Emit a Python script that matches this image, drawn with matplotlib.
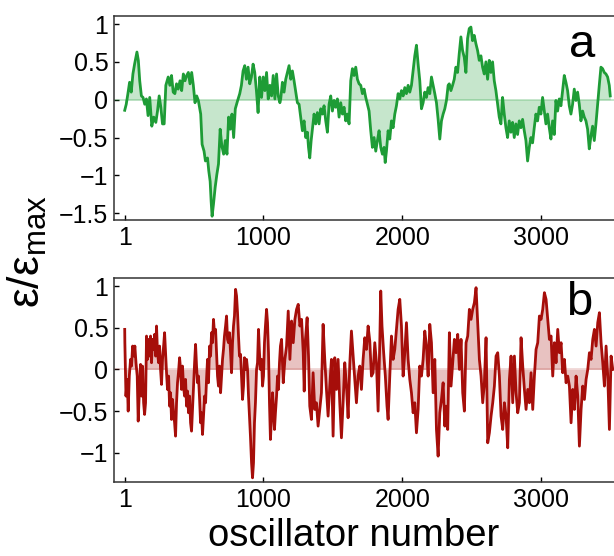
import matplotlib
matplotlib.use("Agg")
from matplotlib import pyplot as plt

plt.rcParams['font.family'] = ['Liberation Sans', 'DejaVu Sans']
plt.rcParams['mathtext.fontset'] = 'custom'
plt.rcParams['mathtext.rm'] = 'Liberation Sans'

# panel a (green)
osc_a = [1, 12, 24, 36, 48, 60, 72, 89, 99, 109, 121, 133, 145, 157, 169, 181, 196, 210, 225, 237,
         249, 261, 273, 285, 297, 314, 326, 338, 350, 362, 374, 386, 399, 411, 423, 435, 447, 459, 471, 483,
         495, 507, 519, 531, 548, 558, 572, 582, 597, 606, 616, 623, 630, 640, 652, 664, 676, 688, 700, 713,
         725, 737, 749, 761, 773, 785, 797, 814, 829, 841, 853, 865, 877, 889, 901, 913, 925, 937, 949, 961,
         973, 986, 998, 1010, 1022, 1034, 1046, 1058, 1070, 1082, 1094, 1106, 1118, 1124, 1136, 1148, 1160, 1172, 1184, 1196,
         1208, 1220, 1232, 1244, 1256, 1268, 1280, 1292, 1304, 1316, 1324, 1333, 1343, 1352, 1364, 1376, 1388, 1400, 1412, 1424,
         1436, 1448, 1460, 1472, 1484, 1496, 1508, 1520, 1532, 1544, 1556, 1568, 1580, 1592, 1604, 1616, 1628, 1640, 1652, 1664,
         1676, 1688, 1700, 1712, 1724, 1736, 1748, 1760, 1772, 1784, 1796, 1808, 1820, 1832, 1844, 1856, 1868, 1876, 1885, 1897,
         1909, 1921, 1933, 1945, 1957, 1969, 1981, 1993, 2005, 2017, 2029, 2041, 2053, 2065, 2077, 2089, 2101, 2113, 2125, 2137,
         2149, 2161, 2173, 2185, 2197, 2209, 2221, 2233, 2245, 2257, 2269, 2281, 2293, 2305, 2317, 2329, 2337, 2349, 2361, 2373,
         2385, 2397, 2409, 2421, 2433, 2445, 2457, 2469, 2481, 2493, 2505, 2517, 2529, 2541, 2553, 2565, 2577, 2589, 2601, 2613,
         2625, 2637, 2649, 2661, 2673, 2685, 2697, 2709, 2721, 2733, 2745, 2757, 2769, 2781, 2793, 2805, 2817, 2829, 2841, 2853,
         2865, 2877, 2889, 2901, 2913, 2925, 2937, 2949, 2961, 2973, 2985, 2997, 3009, 3021, 3033, 3045, 3057, 3069, 3081, 3093,
         3105, 3117, 3129, 3141, 3153, 3165, 3177, 3189, 3201, 3213, 3225, 3237, 3249, 3261, 3273, 3285, 3297, 3309, 3321, 3333,
         3345, 3357, 3369, 3381, 3393, 3405, 3417, 3429, 3441, 3453, 3465, 3477, 3489, 3496]
eps_a = [-0.14, -0.06, 0.08, 0.23, 0.10, 0.34, 0.47, 0.63, 0.52, 0.25, 0.05, 0.03, -0.06, 0.01, -0.21, 0.03, -0.35, -0.23, -0.30, -0.15,
         0.05, -0.10, -0.32, -0.32, 0.19, 0.30, 0.19, 0.32, 0.10, 0.08, 0.21, 0.14, 0.25, 0.12, 0.34, 0.25, 0.32, 0.36, 0.21, 0.36,
         0.19, -0.04, 0.05, -0.01, -0.19, -0.59, -0.68, -0.81, -0.77, -0.94, -1.08, -1.34, -1.54, -1.38, -1.16, -0.99, -0.85, -0.39, -0.61, -0.72,
         -0.54, -0.72, -0.23, -0.39, -0.19, -0.50, -0.12, -0.01, 0.08, 0.19, 0.38, 0.45, 0.27, 0.43, 0.21, 0.30, 0.47, 0.36, 0.12, -0.17,
         0.30, 0.03, 0.30, 0.12, 0.36, 0.01, 0.19, 0.05, 0.32, 0.01, 0.34, 0.05, -0.04, 0.01, 0.23, 0.10, 0.27, 0.36, 0.45, 0.27,
         0.38, 0.25, 0.10, -0.04, -0.06, -0.23, -0.41, -0.28, -0.50, -0.43, -0.63, -0.77, -0.54, -0.39, -0.19, -0.32, -0.17, -0.32, -0.12, -0.19,
         -0.08, -0.28, -0.43, -0.06, 0.05, -0.15, -0.01, -0.10, 0.01, -0.23, -0.04, -0.19, -0.10, -0.28, -0.19, -0.32, 0.25, 0.41, 0.32, 0.43,
         0.27, 0.21, 0.19, 0.08, 0.14, 0.03, -0.06, -0.15, -0.41, -0.63, -0.50, -0.68, -0.54, -0.41, -0.63, -0.72, -0.63, -0.83, -0.68, -0.41,
         -0.52, -0.28, -0.37, -0.19, -0.08, 0.08, 0.01, 0.12, 0.05, 0.16, 0.08, 0.19, 0.10, 0.19, 0.38, 0.58, 0.72, 0.47, 0.25, -0.12,
         -0.04, 0.10, 0.03, 0.16, 0.08, 0.30, 0.19, 0.08, -0.04, -0.26, -0.52, -0.28, -0.19, -0.12, -0.01, 0.19, 0.21, 0.12, 0.19, 0.27,
         0.43, 0.36, 0.61, 0.83, 0.65, 0.56, 0.36, 0.81, 0.94, 0.96, 0.78, 0.85, 0.74, 0.65, 0.52, 0.58, 0.43, 0.34, 0.50, 0.27,
         0.52, 0.36, 0.50, 0.25, 0.12, -0.06, -0.23, -0.32, 0.03, -0.19, -0.37, -0.50, -0.28, -0.43, -0.30, -0.50, -0.32, -0.46, -0.28, -0.37,
         -0.26, -0.41, -0.54, -0.81, -0.63, -0.50, -0.57, -0.37, -0.19, -0.28, -0.10, -0.19, 0.03, -0.15, -0.32, -0.19, -0.37, -0.52, -0.28, -0.46,
         -0.01, -0.15, 0.01, -0.08, 0.12, 0.32, 0.23, 0.12, -0.08, -0.19, -0.06, 0.14, -0.01, 0.10, -0.06, -0.28, -0.15, -0.23, -0.28, -0.39,
         -0.65, -0.48, -0.35, -0.54, -0.32, -0.06, 0.19, 0.43, 0.41, 0.36, 0.34, 0.30, 0.19, 0.05]

# panel b (red)
osc_b = [1, 2, 10, 19, 26, 34, 43, 50, 58, 67, 74, 82, 91, 98, 106, 115, 122, 129, 137, 144,
         151, 158, 165, 173, 180, 187, 194, 201, 209, 216, 223, 230, 237, 245, 252, 259, 266, 273, 281, 288,
         295, 302, 309, 317, 324, 331, 338, 345, 353, 360, 367, 374, 381, 388, 396, 403, 410, 417, 424, 432,
         439, 446, 453, 460, 468, 475, 482, 489, 496, 504, 511, 518, 525, 532, 540, 547, 554, 561, 568, 576,
         583, 590, 597, 604, 612, 619, 626, 633, 640, 647, 655, 662, 669, 676, 683, 691, 698, 705, 712, 719,
         727, 734, 741, 748, 755, 763, 770, 777, 784, 791, 799, 806, 813, 820, 827, 835, 842, 849, 856, 863,
         870, 878, 885, 892, 899, 906, 914, 921, 928, 935, 942, 950, 957, 964, 971, 978, 986, 993, 1000, 1007,
         1014, 1022, 1029, 1036, 1043, 1050, 1058, 1065, 1072, 1079, 1086, 1094, 1101, 1108, 1115, 1122, 1130, 1142, 1154, 1166,
         1178, 1190, 1202, 1214, 1226, 1238, 1250, 1262, 1274, 1286, 1293, 1302, 1314, 1324, 1333, 1345, 1357, 1369, 1381, 1393,
         1405, 1417, 1429, 1441, 1453, 1465, 1477, 1489, 1501, 1513, 1525, 1537, 1549, 1561, 1573, 1585, 1597, 1609, 1621, 1633,
         1645, 1657, 1669, 1681, 1693, 1705, 1717, 1729, 1741, 1753, 1765, 1777, 1789, 1801, 1813, 1825, 1837, 1844, 1853, 1865,
         1877, 1889, 1897, 1909, 1921, 1933, 1945, 1957, 1969, 1981, 1993, 2005, 2017, 2029, 2041, 2053, 2065, 2077, 2089, 2101,
         2113, 2125, 2137, 2149, 2161, 2173, 2185, 2197, 2209, 2221, 2233, 2245, 2257, 2269, 2281, 2293, 2305, 2314, 2326, 2338,
         2350, 2362, 2374, 2386, 2398, 2410, 2422, 2434, 2446, 2458, 2470, 2482, 2494, 2506, 2518, 2530, 2542, 2554, 2566, 2578,
         2590, 2602, 2614, 2626, 2638, 2650, 2662, 2674, 2686, 2698, 2710, 2722, 2734, 2746, 2758, 2770, 2782, 2794, 2806, 2818,
         2830, 2842, 2854, 2866, 2878, 2890, 2902, 2914, 2926, 2938, 2950, 2962, 2974, 2986, 2998, 3010, 3022, 3034, 3046, 3058,
         3070, 3082, 3094, 3106, 3118, 3130, 3142, 3154, 3166, 3178, 3190, 3202, 3214, 3226, 3238, 3250, 3262, 3274, 3286, 3298,
         3310, 3322, 3334, 3346, 3358, 3370, 3382, 3394, 3406, 3418, 3430, 3442, 3454, 3466, 3478, 3490, 3502, 3514]
eps_b = [0.48, 0.32, -0.32, -0.12, -0.50, -0.08, 0.12, 0.04, 0.28, 0.16, 0.28, 0.08, -0.08, -0.62, -0.28, 0.06, -0.32, 0.04, -0.40, -0.54,
         -0.40, 0.40, 0.12, 0.36, 0.16, 0.40, 0.08, 0.36, 0.24, 0.42, 0.16, 0.52, 0.20, 0.08, 0.28, 0.00, -0.18, 0.12, 0.28, 0.44,
         0.20, -0.04, -0.24, -0.08, -0.44, -0.28, -0.60, -0.36, -0.52, -0.64, -0.80, -0.40, -0.16, -0.04, 0.14, 0.00, -0.24, 0.04, -0.20, -0.32,
         -0.12, -0.44, -0.26, -0.52, -0.32, -0.64, -0.74, -0.48, -0.24, 0.08, 0.30, 0.04, -0.16, -0.08, -0.36, -0.64, -0.52, -0.78, -0.56, -0.32,
         -0.40, -0.12, 0.12, -0.16, 0.28, 0.16, 0.44, 0.32, 0.60, 0.44, 0.48, 0.20, -0.08, -0.20, 0.04, -0.28, -0.08, 0.12, 0.24, 0.40,
         0.52, 0.64, 0.36, 0.32, 0.44, 0.20, -0.04, 0.32, 0.52, 0.64, 0.96, 0.88, 0.68, 0.40, 0.16, 0.18, -0.08, -0.36, -0.20, 0.14,
         0.00, 0.12, 0.00, -0.32, -0.56, -0.80, -1.12, -1.30, -1.12, -0.64, -0.40, 0.00, 0.08, 0.48, 0.20, 0.00, 0.12, -0.20, -0.08, 0.32,
         0.52, 0.72, 0.56, 0.20, -0.40, -0.84, -0.56, -0.28, -0.48, -0.72, -0.52, -0.32, -0.08, -0.24, 0.08, 0.28, 0.36, -0.16, 0.12, 0.28,
         0.70, 0.12, 0.58, 0.32, 0.60, 0.72, 0.78, 0.52, 0.60, 0.20, -0.26, 0.36, 0.62, 0.16, -0.44, -0.60, -0.04, -0.48, -0.40, -0.68,
         -0.48, -0.28, 0.54, 0.12, -0.24, -0.56, -0.20, 0.12, -0.80, 0.14, -0.24, 0.12, -0.40, -0.82, -0.40, 0.08, -0.20, -0.58, 0.06, 0.46,
         0.16, -0.12, -0.40, -0.08, 0.04, -0.24, 0.12, 0.38, 0.24, 0.52, 0.34, -0.08, -0.04, 0.32, 0.08, -0.50, 0.32, 0.94, 0.52, 0.20,
         -0.08, -0.44, -0.60, -0.08, 0.40, 0.12, 0.24, 0.48, 0.72, 0.84, 0.52, -0.08, 0.20, 0.56, 0.12, -0.12, -0.28, -0.52, -0.40, -0.76,
         -0.48, 0.04, -0.08, 0.12, 0.46, 0.28, -0.08, 0.54, 0.32, -0.28, 0.12, -0.72, -1.04, -0.52, -0.36, -0.16, -0.68, -0.44, -0.72, 0.44,
         -0.20, 0.08, 0.36, 0.20, 0.42, 0.00, 0.36, -0.28, -0.50, 0.32, 0.40, 0.72, 0.60, 0.72, 0.80, 0.98, 0.56, 0.12, -0.08, -0.40,
         -0.16, 0.38, -0.88, -0.76, -0.56, -0.40, -0.20, 0.16, 0.20, -0.08, -0.56, -0.72, -0.40, -0.56, -0.94, -0.12, 0.16, -0.40, 0.16, -0.28,
         -0.52, -0.40, 0.38, 0.04, -0.24, -0.48, -0.24, -0.40, -0.04, -0.48, -0.08, 0.24, 0.32, 0.64, 0.60, 0.72, 0.92, 0.84, 0.60, 0.36,
         0.40, -0.08, 0.32, 0.08, 0.48, 0.20, 0.32, -0.04, 0.12, -0.16, -0.08, -0.20, -0.64, -0.24, -0.48, -0.08, -0.32, -0.92, -0.48, -0.20,
         -0.36, -0.12, 0.00, 0.20, 0.12, 0.36, 0.48, 0.28, 0.56, 0.68, 0.32, 0.08, -0.20, 0.28, -0.08, -0.72, 0.16, 0.00]

x_ticks = [1, 1000, 2000, 3000]
yticks_a = [1, 0.5, 0, -0.5, -1, -1.5]
yticks_b = [1, 0.5, 0, -0.5, -1]

green = '#1e9c36'
red = '#a60e0a'

fig = plt.figure(figsize=(6.14, 5.56), dpi=100)
ax_a = fig.add_axes([0.1857, 0.6043, 0.8143, 0.3669])
ax_b = fig.add_axes([0.1857, 0.1331, 0.8143, 0.3669])

for ax, xs, ys, col, yt, ylim, tag, tpos, zalpha in [
        (ax_a, osc_a, eps_a, green, yticks_a, (-1.59, 1.106), 'a', (0.936, 0.858), 0.3),
        (ax_b, osc_b, eps_b, red, yticks_b, (-1.35, 1.096), 'b', (0.93, 0.877), 0.18)]:
    ax.fill_between(xs, ys, 0, color=col, alpha=0.25, linewidth=0)
    ax.axhline(0, color=col, alpha=zalpha, linewidth=1.2)
    ax.plot(xs, ys, color=col, linewidth=2.0)
    ax.set_xlim(-76, 3523)
    ax.set_ylim(*ylim)
    ax.set_xticks(x_ticks)
    ax.set_yticks(yt)
    ax.set_yticklabels([('%g' % v).replace('-', '\u2212') for v in yt])
    ax.tick_params(direction='in', length=3.5, width=1, labelsize=18, pad=4,
                   top=False, right=False)
    ax.spines['right'].set_visible(False)
    for s in ['left', 'bottom', 'top']:
        ax.spines[s].set_linewidth(1.1)
        ax.spines[s].set_color('#333333')
    ax.text(tpos[0], tpos[1], tag, transform=ax.transAxes, fontsize=34,
            ha='center', va='center')

fig.text(0.5765, 0.003, 'oscillator number', fontsize=27.5,
         ha='center', va='bottom')
fig.text(0.045, 0.547, r'ε/ε$_{\mathrm{max}}$', rotation=90, fontsize=32,
         ha='center', va='center')

fig.savefig('out.png', dpi=100)
